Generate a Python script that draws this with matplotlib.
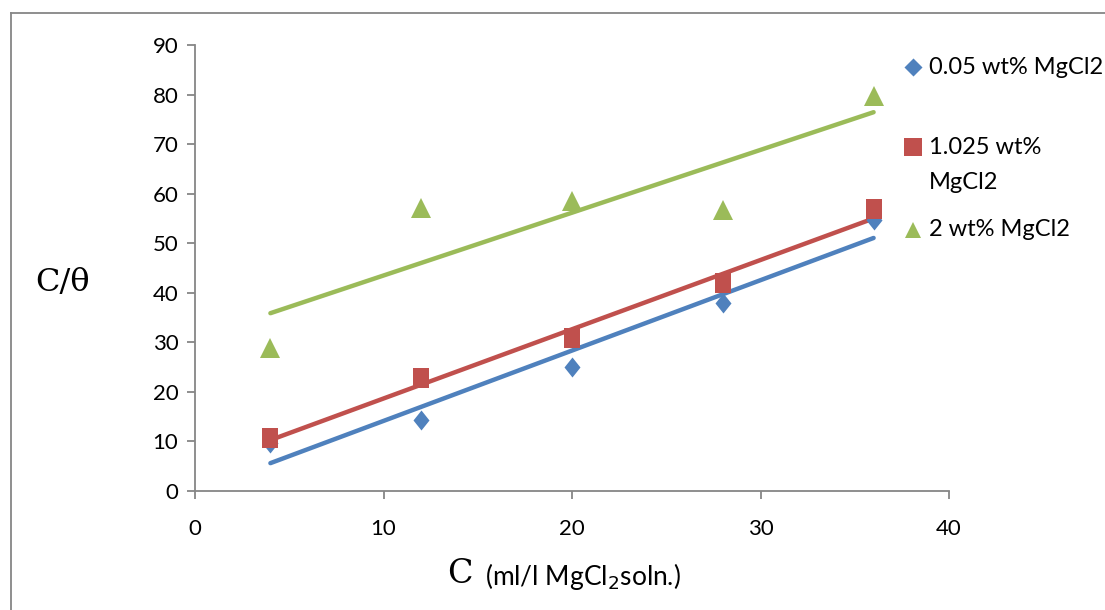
import numpy as np
import matplotlib
matplotlib.use("Agg")
import matplotlib.pyplot as plt
from matplotlib.lines import Line2D

# Data
conc = [4, 12, 20, 28, 36]
s_005 = [9.7, 14.3, 25.1, 37.9, 54.7]
s_1025 = [10.6, 22.9, 30.8, 41.9, 57.0]
s_2 = [28.8, 57.1, 58.5, 56.7, 79.7]
labels = [["0.05 wt% MgCl2"], ["1.025 wt%", "MgCl2"], ["2 wt% MgCl2"]]
colors = ["#4F81BD", "#C0504D", "#9BBB59"]
xticks = [0, 10, 20, 30, 40]
yticks = [0, 10, 20, 30, 40, 50, 60, 70, 80, 90]

diamond = [(0, 1), (0.8, 0), (0, -1), (-0.8, 0), (0, 1)]
rect = [(-0.78, -1), (0.78, -1), (0.78, 1), (-0.78, 1), (-0.78, -1)]
markers = [diamond, rect, "^"]
msizes = [14.4, 15, 14.5]
leg_diamond = [(0, 1), (1, 0), (0, -1), (-1, 0), (0, 1)]
leg_markers = [leg_diamond, "s", "^"]
leg_ms = [13, 12.5, 11.5]

W, H = 1105, 610
fig = plt.figure(figsize=(W / 100, H / 100), dpi=100)
ax = fig.add_axes([195 / W, 1 - 491 / H, (949 - 195) / W, (491 - 45) / H])

font = "Lato"
series = [s_005, s_1025, s_2]
for ys, c, m, ms in zip(series, colors, markers, msizes):
    slope, icpt = np.polyfit(conc, ys, 1)
    xs = np.array([conc[0], conc[-1]])
    ax.plot(xs, slope * xs + icpt, color=c, lw=3.2, solid_capstyle="round", zorder=2)
    ax.plot(conc, ys, linestyle="none", marker=m, color=c, markersize=ms,
            markeredgewidth=0, zorder=3)

ax.set_xlim(0, 40)
ax.set_ylim(0, 90)
ax.set_xticks(xticks)
ax.set_yticks(yticks)
for sp in ["top", "right"]:
    ax.spines[sp].set_visible(False)
for sp in ["left", "bottom"]:
    ax.spines[sp].set_color("#868686")
    ax.spines[sp].set_linewidth(1.3)
ax.tick_params(direction="out", length=6, width=1.3, color="#868686",
               labelsize=16)
ax.tick_params(axis="y", pad=6)
ax.tick_params(axis="x", pad=14)
for t in ax.get_xticklabels() + ax.get_yticklabels():
    t.set_fontfamily(font)

# axis labels
fig.text(63 / W, 1 - 282 / H, "C/\u03b8", fontsize=23, family="DejaVu Serif",
         ha="center", va="center")
fig.text(447 / W, 1 - 574 / H, "C", fontsize=24, family="DejaVu Serif",
         ha="left", va="center")
fig.text(485 / W, 1 - 576 / H, "(ml/l MgCl$_2$soln.)", fontsize=19, family=font,
         ha="left", va="center")

# legend (drawn manually to follow the reference's entry spacing)
leg_rows = [67, 147, 230]
line_gap = 35
for row, c, m, ms, lines in zip(leg_rows, colors, leg_markers, leg_ms, labels):
    fig.add_artist(Line2D([913 / W], [1 - row / H], transform=fig.transFigure,
                          linestyle="none", marker=m, color=c, markersize=ms,
                          markeredgewidth=0))
    for i, txt in enumerate(lines):
        fig.text(929 / W, 1 - (row + i * line_gap) / H, txt, fontsize=17,
                 family=font, ha="left", va="center")

# chart border
fig.add_artist(Line2D([11 / W, 11 / W], [0, 1 - 13 / H], transform=fig.transFigure,
                      color="#868686", lw=1.3))
fig.add_artist(Line2D([11 / W, 1], [1 - 13 / H, 1 - 13 / H], transform=fig.transFigure,
                      color="#868686", lw=1.3))

fig.savefig("out.png", dpi=100)
